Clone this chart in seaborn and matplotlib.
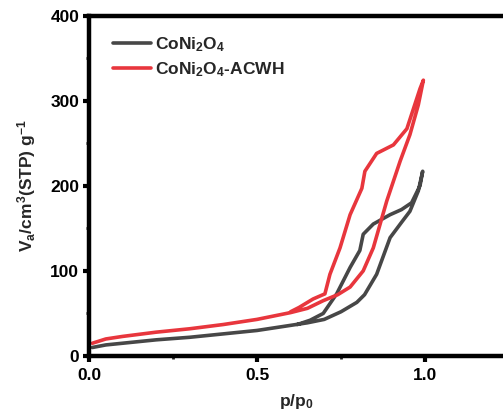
import numpy as np
import pandas as pd
import matplotlib
matplotlib.use("Agg")
import matplotlib.pyplot as plt
import seaborn as sns
from matplotlib.ticker import MultipleLocator

# CoNi2O4: adsorption branch then desorption branch
gray_p = [0.01, 0.05, 0.1, 0.2, 0.3, 0.4, 0.5, 0.6, 0.65, 0.7, 0.75, 0.797, 0.82, 0.856, 0.896, 0.93, 0.955, 0.98, 0.993,
          0.985, 0.96, 0.93, 0.896, 0.846, 0.816, 0.806, 0.777, 0.737, 0.697, 0.658, 0.62]
gray_v = [10, 13, 15, 19, 22, 26, 30, 36, 39, 43, 52, 63, 72, 96, 139, 157, 170, 194, 217,
          200, 180, 172, 166, 155, 143, 124, 104, 73, 50, 42, 37]

# CoNi2O4-ACWH
red_p = [0.01, 0.05, 0.1, 0.2, 0.3, 0.4, 0.5, 0.6, 0.65, 0.697, 0.74, 0.777, 0.816, 0.846, 0.886, 0.926, 0.955, 0.98, 0.995,
         0.985, 0.946, 0.906, 0.856, 0.821, 0.812, 0.777, 0.747, 0.717, 0.702, 0.667, 0.625, 0.6]
red_v = [15, 20, 23, 28, 32, 37, 43, 51, 56, 65, 72, 81, 100, 127, 182, 229, 260, 295, 324,
         314, 267, 248, 238, 217, 197, 166, 127, 96, 73, 67, 57, 52]

labels = ["CoNi$_2$O$_4$", "CoNi$_2$O$_4$-ACWH"]

df = pd.concat([
    pd.DataFrame({"p": gray_p, "v": gray_v, "s": labels[0]}),
    pd.DataFrame({"p": red_p, "v": red_v, "s": labels[1]}),
], ignore_index=True)

sns.set_style("ticks")
plt.rcParams["font.family"] = ["Liberation Sans", "DejaVu Sans"]
plt.rcParams["font.weight"] = "bold"
plt.rcParams["mathtext.fontset"] = "custom"
plt.rcParams["mathtext.rm"] = "Liberation Sans:bold"
plt.rcParams["mathtext.it"] = "Liberation Sans:bold"
plt.rcParams["mathtext.bf"] = "Liberation Sans:bold"
plt.rcParams["mathtext.default"] = "rm"

fig = plt.figure(figsize=(5.03, 4.13), dpi=100)
ax = fig.add_axes([89/503, 57/413, (503-89)/503, (356-15.5)/413])

sns.lineplot(data=df, x="p", y="v", hue="s", sort=False, estimator=None,
             palette=["#474747", "#e8363d"], linewidth=2.6, ax=ax)

ax.set_xlim(0, 1.232)
ax.set_ylim(0, 400)
ax.xaxis.set_major_locator(MultipleLocator(0.5))
ax.xaxis.set_minor_locator(MultipleLocator(0.25))
ax.yaxis.set_major_locator(MultipleLocator(100))
ax.yaxis.set_minor_locator(MultipleLocator(50))
ax.set_xticks([0, 0.5, 1.0])
ax.set_xticklabels(["0.0", "0.5", "1.0"])

for s in ["left", "bottom", "top"]:
    ax.spines[s].set_linewidth(3.2)
    ax.spines[s].set_color("black")
    ax.spines[s].set_capstyle("projecting")
ax.spines["right"].set_visible(False)

ax.tick_params(axis="both", which="major", direction="out", length=4, width=3.0,
               labelsize=12.5, colors="black")
ax.tick_params(axis="both", which="minor", direction="out", length=2.5, width=2.0)
ax.tick_params(axis="y", pad=3)
ax.tick_params(axis="x", pad=5)

ax.set_xlabel("p/p$_0$", fontsize=12.5, fontweight="bold", labelpad=6)
ax.set_ylabel("V$_a$/cm$^3$(STP) g$^{-1}$", fontsize=12.5, fontweight="bold", labelpad=9)

leg = ax.legend(loc="upper left", frameon=False, fontsize=12.5, handlelength=2.2,
                handletextpad=0.25, labelspacing=0.35, bbox_to_anchor=(0.04, 0.962), borderaxespad=0)
for line in leg.get_lines():
    line.set_linewidth(2.6)

fig.savefig("out.png", dpi=100)
